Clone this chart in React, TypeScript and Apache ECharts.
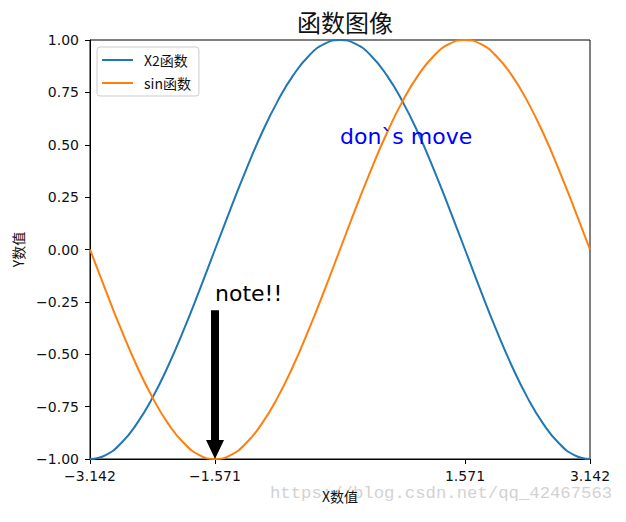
import React, { useEffect, useRef } from "react";
import * as echarts from "echarts";

const xValues = [
  -3.142, -2.945, -2.749, -2.553, -2.356, -2.16, -1.963, -1.767, -1.571, -1.374, -1.178,
  -0.982, -0.785, -0.589, -0.393, -0.196, 0, 0.196, 0.393, 0.589, 0.785, 0.982, 1.178,
  1.374, 1.571, 1.767, 1.963, 2.16, 2.356, 2.553, 2.749, 2.945, 3.142,
];
const x2Values = [
  -1, -0.981, -0.924, -0.831, -0.707, -0.556, -0.383, -0.195, 0, 0.195, 0.383, 0.556,
  0.707, 0.831, 0.924, 0.981, 1, 0.981, 0.924, 0.831, 0.707, 0.556, 0.383, 0.195, 0,
  -0.195, -0.383, -0.556, -0.707, -0.831, -0.924, -0.981, -1,
];
const sinValues = [
  0, -0.195, -0.383, -0.556, -0.707, -0.831, -0.924, -0.981, -1, -0.981, -0.924, -0.831,
  -0.707, -0.556, -0.383, -0.195, 0, 0.195, 0.383, 0.556, 0.707, 0.831, 0.924, 0.981, 1,
  0.981, 0.924, 0.831, 0.707, 0.556, 0.383, 0.195, 0,
];
const xTickValues = [-3.142, -1.571, 1.571, 3.142];
const seriesNames = ["X2函数", "sin函数"];
const noteText = "note!!";
const notePoint = [-1.571, -0.25];
const arrowFrom = [-1.571, -0.29];
const arrowTo = [-1.571, -0.955];
const moveText = "don`s move";
const movePoint = [0, 0.5];

const fmt = (v: number, d: number) => v.toFixed(d).replace("-", "\u2212");
const LATIN = "DejaVu Sans";
const CJK = "'Noto Sans CJK SC', 'DejaVu Sans'";

export default function App() {
  const ref = useRef<HTMLDivElement>(null);
  useEffect(() => {
    const chart = echarts.init(ref.current!, null, { renderer: "svg" });
    chart.setOption({
      animation: false,
      title: {
        text: "函数图像",
        left: 340,
        top: 4,
        textAlign: "center",
        textStyle: { fontFamily: CJK, fontSize: 24, fontWeight: "normal", color: "#111" },
      },
      legend: {
        data: seriesNames,
        orient: "vertical",
        left: 97,
        top: 47,
        padding: [6, 8, 6, 5],
        itemWidth: 31,
        itemHeight: 14,
        itemGap: 9,
        icon: "path://M0,0H31V2H0Z",
        symbolKeepAspect: true,
        borderColor: "#ccc",
        borderWidth: 1,
        borderRadius: 3,
        backgroundColor: "rgba(255,255,255,0.8)",
        textStyle: { fontFamily: CJK, fontSize: 14, color: "#111", padding: [0, 0, 0, 6] },
      },
      grid: {
        left: 90,
        top: 40,
        right: 36,
        bottom: 63,
        show: true,
        borderColor: "#000",
        borderWidth: 1,
      },
      xAxis: {
        type: "value",
        min: -3.142,
        max: 3.142,
        name: "X数值",
        nameLocation: "middle",
        nameGap: 30,
        nameTextStyle: { fontFamily: CJK, fontSize: 14, color: "#111" },
        axisLine: { show: true, onZero: false, lineStyle: { color: "#000", width: 1 } },
        axisTick: { show: true, customValues: xTickValues, length: 5, lineStyle: { color: "#000" } },
        axisLabel: {
          customValues: xTickValues,
          formatter: (v: number) => fmt(v, 3),
          fontFamily: LATIN,
          fontSize: 14,
          color: "#111",
          margin: 10,
        },
        splitLine: { show: false },
      },
      yAxis: {
        type: "value",
        min: -1,
        max: 1,
        interval: 0.25,
        name: "Y数值",
        nameLocation: "middle",
        nameGap: 64,
        nameTextStyle: { fontFamily: CJK, fontSize: 14, color: "#111" },
        axisLine: { show: true, onZero: false, lineStyle: { color: "#000", width: 1 } },
        axisTick: { show: true, length: 5, lineStyle: { color: "#000" } },
        axisLabel: {
          formatter: (v: number) => fmt(v, 2),
          fontFamily: LATIN,
          fontSize: 14,
          color: "#111",
          margin: 11,
        },
        splitLine: { show: false },
      },
      series: [
        {
          name: seriesNames[0],
          type: "line",
          data: xValues.map((x, i) => [x, x2Values[i]]),
          smooth: true,
          symbol: "none",
          lineStyle: { color: "#1f77b4", width: 2 },
          itemStyle: { color: "#1f77b4" },
        },
        {
          name: seriesNames[1],
          type: "line",
          data: xValues.map((x, i) => [x, sinValues[i]]),
          smooth: true,
          symbol: "none",
          lineStyle: { color: "#ff7f0e", width: 2 },
          itemStyle: { color: "#ff7f0e" },
          markLine: {
            silent: true,
            symbol: ["none", "triangle"],
            symbolSize: [18, 19],
            label: { show: false },
            lineStyle: { color: "#000", width: 8, type: "solid", opacity: 1 },
            itemStyle: { color: "#000" },
            data: [[{ coord: arrowFrom }, { coord: arrowTo }]],
            z: 10,
          },
        },
        {
          name: "annotations",
          type: "scatter",
          symbolSize: 0,
          silent: true,
          itemStyle: { opacity: 1 },
          data: [
            { value: notePoint, label: { formatter: noteText, color: "#000000" } },
            { value: movePoint, label: { formatter: moveText, color: "#0000ff" } },
          ],
          label: {
            show: true,
            position: [0, 0],
            align: "left",
            verticalAlign: "bottom",
            offset: [0, 3],
            fontFamily: LATIN,
            fontSize: 22,
            opacity: 1,
          },
          z: 20,
        },
      ],
      graphic: [
        {
          type: "text",
          left: 270,
          top: 485,
          silent: true,
          style: {
            text: "https://blog.csdn.net/qq_42467563",
            fontFamily: "'Liberation Mono', monospace",
            fontSize: 17.3,
            fill: "#d2d2d2",
          },
          z: -1,
        },
      ],
    });
    return () => chart.dispose();
  }, []);
  return <div ref={ref} style={{ width: 626, height: 522, margin: -8 }} />;
}
